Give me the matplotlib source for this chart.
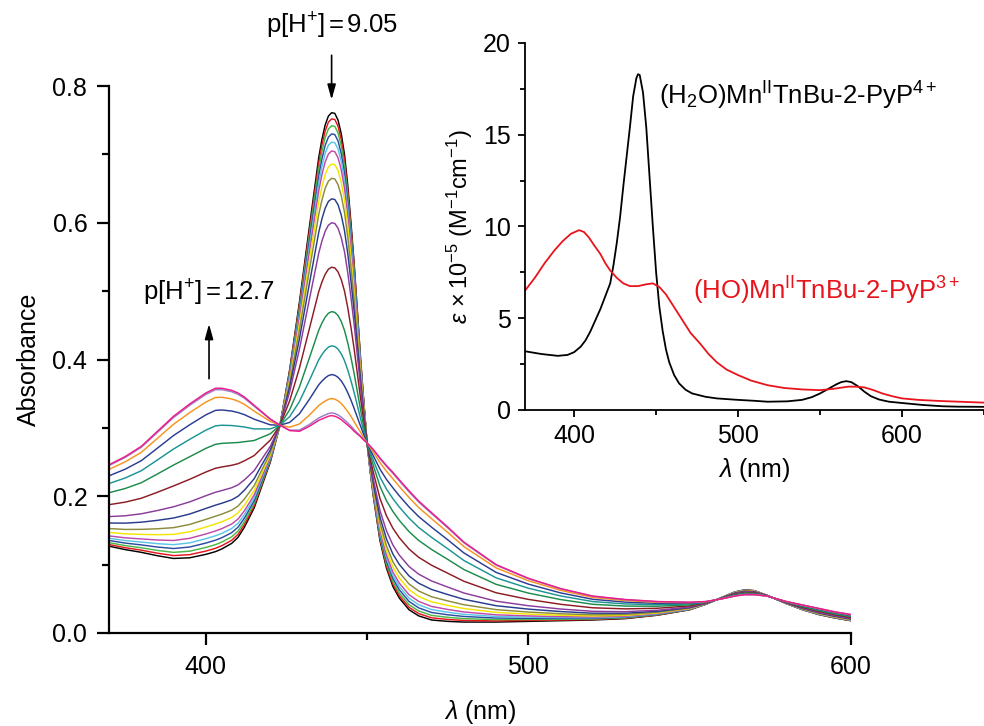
import matplotlib
matplotlib.use('Agg')
import matplotlib.pyplot as plt
import numpy as np
from matplotlib.ticker import MultipleLocator, FormatStrFormatter

plt.rcParams['font.family'] = ['Liberation Sans', 'DejaVu Sans']
plt.rcParams['mathtext.fontset'] = 'custom'
plt.rcParams['mathtext.rm'] = 'Liberation Sans'
plt.rcParams['mathtext.it'] = 'Liberation Sans:italic'
plt.rcParams['mathtext.bf'] = 'Liberation Sans:bold'

# ---------------- main panel data ----------------
wavelength = [370, 375, 380, 385, 390, 395, 400, 403, 405, 408,
              410, 412, 415, 417, 420, 423, 426, 429, 432, 434,
              435, 436, 437, 438, 439, 440, 441, 442, 443, 444,
              445, 446, 447, 448, 449, 450, 451, 452, 454, 456,
              458, 460, 463, 466, 470, 475, 480, 490, 500, 510,
              520, 530, 540, 550, 555, 560, 564, 567, 570, 574,
              580, 585, 590, 595, 600]
# spectrum at p[H+] = 9.05 (black)
abs_ph905 = [0.127, 0.122, 0.118, 0.113, 0.109, 0.110, 0.115, 0.119, 0.123, 0.131,
             0.140, 0.155, 0.183, 0.210, 0.250, 0.304, 0.385, 0.483, 0.590, 0.660,
             0.695, 0.722, 0.743, 0.756, 0.761, 0.760, 0.750, 0.730, 0.700, 0.655,
             0.600, 0.540, 0.470, 0.400, 0.337, 0.278, 0.235, 0.198, 0.135, 0.095,
             0.068, 0.051, 0.034, 0.025, 0.019, 0.017, 0.016, 0.016, 0.017, 0.018,
             0.019, 0.021, 0.026, 0.034, 0.042, 0.052, 0.060, 0.063, 0.062, 0.055,
             0.043, 0.034, 0.027, 0.022, 0.018]
# spectrum at p[H+] = 12.7 (pink)
abs_ph127 = [0.246, 0.258, 0.273, 0.295, 0.317, 0.335, 0.351, 0.358, 0.358, 0.355,
             0.351, 0.345, 0.333, 0.325, 0.313, 0.304, 0.296, 0.295, 0.302, 0.308,
             0.311, 0.313, 0.315, 0.317, 0.318, 0.317, 0.315, 0.312, 0.308, 0.304,
             0.300, 0.295, 0.291, 0.287, 0.282, 0.278, 0.273, 0.268, 0.256, 0.245,
             0.235, 0.224, 0.208, 0.193, 0.176, 0.155, 0.133, 0.100, 0.080, 0.065,
             0.054, 0.049, 0.046, 0.045, 0.046, 0.050, 0.054, 0.056, 0.056, 0.054,
             0.046, 0.041, 0.036, 0.031, 0.027]
# Soret absorbance of each titration spectrum (read at 439 nm)
peak_439 = [0.761, 0.752, 0.742, 0.730, 0.718, 0.705, 0.686, 0.665, 0.635,
            0.600, 0.535, 0.470, 0.420, 0.378, 0.343, 0.322, 0.318]
curve_colors = ['#000000', '#e8141c', '#4cb848', '#2b4ea2', '#5bc5e8', '#c04aa8',
                '#f2e600', '#8c8c3c', '#283c8c', '#8c3c9c', '#8c1c24', '#1c8c4c',
                '#1c9494', '#2c3c94', '#f7931e', '#9c7cc4', '#ec1c8c']

# ---------------- inset data ----------------
inset_wl_h2o = [370, 380, 390, 396, 400, 404, 407, 410, 413, 416,
                419, 422, 424, 426, 428, 430, 432, 434, 436, 438,
                439, 440, 442, 444, 446, 448, 450, 452, 454, 456,
                458, 461, 464, 468, 472, 480, 487, 500, 510, 518,
                530, 539, 545, 550, 555, 560, 563, 566, 569, 573,
                577, 581, 586, 592, 600, 613, 625, 634, 650]
inset_eps_h2o = [3.2, 3.05, 2.95, 3.0, 3.15, 3.45, 3.8, 4.3, 4.9, 5.5,
                 6.2, 6.9, 7.9, 9.1, 10.5, 12.2, 13.8, 15.4, 17.1, 18.1,
                 18.3, 18.25, 17.3, 15.4, 12.7, 10.0, 7.5, 5.6, 4.3, 3.3,
                 2.6, 1.9, 1.45, 1.1, 0.9, 0.72, 0.63, 0.55, 0.5, 0.45,
                 0.47, 0.55, 0.7, 0.9, 1.15, 1.4, 1.52, 1.57, 1.52, 1.3,
                 1.0, 0.75, 0.57, 0.45, 0.38, 0.27, 0.2, 0.18, 0.17]
inset_wl_ho = [370, 376, 382, 388, 393, 398, 403, 406, 409, 412,
               416, 419, 422, 426, 430, 434, 439, 444, 448, 452,
               456, 461, 466, 471, 477, 482, 487, 493, 500, 508,
               518, 528, 539, 550, 558, 567, 572, 577, 582, 588,
               594, 600, 610, 623, 635, 650]
inset_eps_ho = [6.5, 7.2, 8.0, 8.7, 9.2, 9.6, 9.8, 9.7, 9.4, 9.0,
                8.5, 8.0, 7.6, 7.2, 6.9, 6.75, 6.75, 6.85, 6.9, 6.7,
                6.3, 5.6, 4.9, 4.2, 3.6, 3.05, 2.6, 2.2, 1.9, 1.6,
                1.35, 1.2, 1.12, 1.08, 1.15, 1.27, 1.27, 1.23, 1.1, 0.9,
                0.75, 0.63, 0.55, 0.49, 0.45, 0.4]

fig = plt.figure(figsize=(9.84, 7.26), dpi=100)

# ---------------- main axes ----------------
ax = fig.add_axes([0.1108, 0.1281, 0.754, 0.7534])
wl = np.array(wavelength)
a_acid = np.array(abs_ph905)
a_base = np.array(abs_ph127)
for pk, col in zip(peak_439, curve_colors):
    frac = (peak_439[0] - pk) / (peak_439[0] - peak_439[-1])
    ax.plot(wl, (1 - frac) * a_acid + frac * a_base, color=col, lw=1.05)

ax.set_xlim(370, 600)
ax.set_ylim(0, 0.8)
for s in ('top', 'right'):
    ax.spines[s].set_visible(False)
for s in ('left', 'bottom'):
    ax.spines[s].set_linewidth(1.6)
ax.xaxis.set_major_locator(MultipleLocator(100))
ax.xaxis.set_minor_locator(MultipleLocator(50))
ax.yaxis.set_major_locator(MultipleLocator(0.2))
ax.yaxis.set_minor_locator(MultipleLocator(0.1))
ax.yaxis.set_major_formatter(FormatStrFormatter('%.1f'))
ax.tick_params(which='major', direction='out', length=8.6, width=1.6, labelsize=18, pad=7)
ax.tick_params(which='minor', direction='out', length=5, width=1.6)
ax.set_xlabel(r'$\lambda$ (nm)', fontsize=18, labelpad=14)
ax.set_ylabel('Absorbance', fontsize=18, labelpad=8)

arrow_style = dict(arrowstyle='-|>,head_length=0.9,head_width=0.25',
                   color='black', lw=1.2, shrinkA=0, shrinkB=0)
ax.annotate('', xy=(439, 0.78), xytext=(439, 0.845),
            arrowprops=arrow_style, annotation_clip=False)
ax.text(439, 0.888, r'p[H$^{+}$]$\,$=$\,$9.05', fontsize=18.5, ha='center', va='center')
ax.annotate('', xy=(401, 0.452), xytext=(401, 0.372), arrowprops=arrow_style)
ax.text(401, 0.497, r'p[H$^{+}$]$\,$=$\,$12.7', fontsize=18.5, ha='center', va='center')

# ---------------- inset axes ----------------
ins = fig.add_axes([0.5335, 0.4353, 0.4665, 0.5055])
ins.set_facecolor('none')
ins.plot(inset_wl_h2o, inset_eps_h2o, color='black', lw=1.3)
ins.plot(inset_wl_ho, inset_eps_ho, color='#e8141c', lw=1.3)
ins.set_xlim(370, 650)
ins.set_ylim(0, 20)
for s in ('top', 'right'):
    ins.spines[s].set_visible(False)
for s in ('left', 'bottom'):
    ins.spines[s].set_linewidth(1.3)
ins.xaxis.set_major_locator(MultipleLocator(100))
ins.xaxis.set_minor_locator(MultipleLocator(50))
ins.yaxis.set_major_locator(MultipleLocator(5))
ins.yaxis.set_minor_locator(MultipleLocator(2.5))
ins.tick_params(which='major', direction='out', length=5, width=1.3, labelsize=18, pad=5)
ins.tick_params(which='minor', direction='out', length=3.5, width=1.3)
ins.set_xlabel(r'$\lambda$ (nm)', fontsize=18, labelpad=6)
ins.set_ylabel(r'$\varepsilon\,\times$10$^{-5}$ (M$^{-1}$cm$^{-1}$)', fontsize=17, labelpad=6)
ins.text(452, 17.1, r'(H$_2$O)Mn$^{\rm II}$TnBu-2-PyP$^{4+}$', fontsize=18.5,
         color='black', ha='left', va='center')
ins.text(472.5, 6.5, r'(HO)Mn$^{\rm II}$TnBu-2-PyP$^{3+}$', fontsize=18.5,
         color='#e8141c', ha='left', va='center')

fig.savefig('out.png', dpi=100)
